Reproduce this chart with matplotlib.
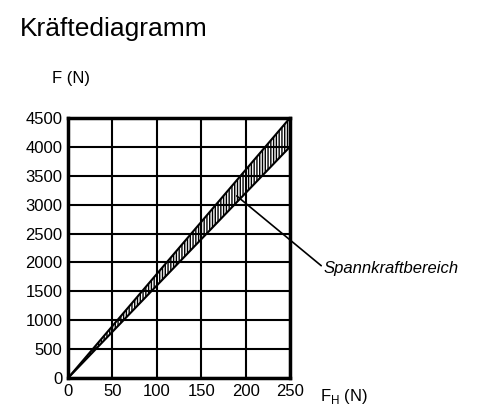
import matplotlib
matplotlib.use("Agg")
import matplotlib.pyplot as plt
import numpy as np

fh = [0, 250]
f_upper = [0, 4500]
f_lower = [0, 4000]
xticks = [0, 50, 100, 150, 200, 250]
yticks = [0, 500, 1000, 1500, 2000, 2500, 3000, 3500, 4000, 4500]
label = "Spannkraftbereich"

plt.rcParams['font.family'] = ['Liberation Sans', 'DejaVu Sans']
fig = plt.figure(figsize=(5.0, 4.15), dpi=100)
ax = fig.add_axes([0.136, 0.089, 0.444, 0.627])
ax.set_xlim(0, 250)
ax.set_ylim(0, 4500)
ax.set_xticks(xticks)
ax.set_yticks(yticks)
ax.grid(True, color='black', linewidth=1.5)
for s in ax.spines.values():
    s.set_linewidth(2.5)
ax.tick_params(length=0, labelsize=12, pad=4)
ax.plot(fh, f_upper, color='black', lw=1.5)
ax.plot(fh, f_lower, color='black', lw=1.5)
ax.fill_between(fh, f_lower, f_upper, facecolor='white', edgecolor='black', hatch='||||||', lw=0)
ax.annotate(label, xy=(190, 3150), xytext=(324, 147), textcoords='figure pixels',
            fontsize=12, style='italic', va='center', ha='left',
            arrowprops=dict(arrowstyle='-', color='black', lw=1.2, shrinkA=0, shrinkB=0,
                            relpos=(0, 0.5)),
            annotation_clip=False)
fig.text(0.04, 0.93, "Kräftediagramm", fontsize=19, va='center')
fig.text(0.105, 0.81, "F (N)", fontsize=12, va='center')
fig.text(0.64, 0.045, r"F$_\mathregular{H}$ (N)", fontsize=12, va='center')
fig.savefig("out.png", dpi=100)
